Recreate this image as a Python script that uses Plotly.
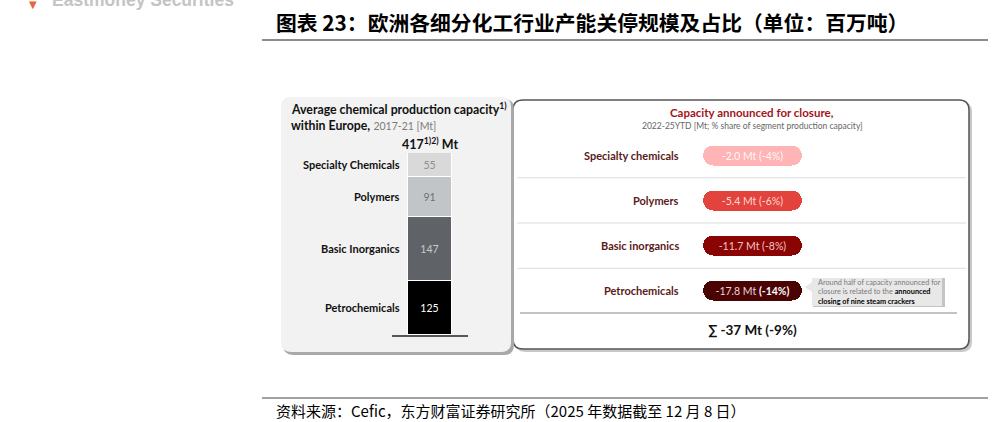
import plotly.graph_objects as go

W, H = 993, 422

# ---------------- data ----------------
segments = ["Petrochemicals", "Basic Inorganics", "Polymers", "Specialty Chemicals"]
capacity = [125, 147, 91, 55]
total_capacity_label = 417

closure_labels = ["Specialty chemicals", "Polymers", "Basic inorganics", "Petrochemicals"]
closure_mt = [-2.0, -5.4, -11.7, -17.8]
closure_pct = [-4, -6, -8, -14]

title_text = "图表 23：欧洲各细分化工行业产能关停规模及占比（单位：百万吨）"
source_text = "资料来源：Cefic，东方财富证券研究所（2025 年数据截至 12 月 8 日）"

# ---------------- styles ----------------
seg_colors = ["#000000", "#5f6368", "#c2c5c8", "#d9d9d9"]
seg_text_colors = ["#ffffff", "#c9c9c9", "#6f6f6f", "#8f8f8f"]
pill_colors = ["#ffb5b5", "#e2433d", "#8a0404", "#4a0303"]
pill_text_colors = ["rgba(255,255,255,0.9)", "#ffd6d3", "#f2c6c6", "#ecd6d6"]
LAT = "Lato, 'Open Sans', sans-serif"
CJK = "'Noto Sans CJK SC', sans-serif"


def px(x):
    return x / W


def py(y):
    return 1 - y / H


def rrect(x0, y0, x1, y1, r):
    def P(x, y):
        return f"{px(x):.5f},{py(y):.5f}"
    return (f"M {P(x0 + r, y0)} L {P(x1 - r, y0)} Q {P(x1, y0)} {P(x1, y0 + r)} "
            f"L {P(x1, y1 - r)} Q {P(x1, y1)} {P(x1 - r, y1)} L {P(x0 + r, y1)} "
            f"Q {P(x0, y1)} {P(x0, y1 - r)} L {P(x0, y0 + r)} Q {P(x0, y0)} {P(x0 + r, y0)} Z")


fig = go.Figure()

# ---------------- left stacked bar ----------------
for name, val, col, tcol in zip(segments, capacity, seg_colors, seg_text_colors):
    fig.add_trace(go.Bar(
        x=["Europe"], y=[val], name=name, marker_color=col,
        marker_line=dict(color="#ffffff", width=1),
        width=0.58, text=[str(val)], textposition="inside",
        insidetextanchor="middle", constraintext="none",
        textfont=dict(color=tcol, size=10.5, family=LAT),
        xaxis="x2", yaxis="y2", showlegend=False, hoverinfo="skip"))

# ---------------- right pills ----------------
pill_texts = []
for i, (mt, pc) in enumerate(zip(closure_mt, closure_pct)):
    pct = f"({pc}%)"
    if i == len(closure_mt) - 1:
        pct = f"<b><span style='color:#ffffff'>{pct}</span></b>"
    pill_texts.append(f"{mt:.1f} Mt {pct}")

fig.add_trace(go.Bar(
    y=closure_labels, x=[1] * len(closure_labels), base=0, orientation="h",
    marker=dict(color=pill_colors, cornerradius="50%", line=dict(width=0)),
    width=0.44, text=pill_texts, textposition="inside",
    insidetextanchor="middle", constraintext="none",
    textfont=dict(color=pill_text_colors, size=10.5, family=LAT),
    xaxis="x3", yaxis="y3", showlegend=False, hoverinfo="skip"))

total = sum(capacity)
shapes = []
# right panel
shapes.append(dict(type="path", path=rrect(515, 102, 972, 352, 10), xref="paper", yref="paper",
                   fillcolor="#c8c8c8", line=dict(width=0), layer="below"))
shapes.append(dict(type="path", path=rrect(513, 100, 969, 349, 10), xref="paper", yref="paper",
                   fillcolor="#ffffff", line=dict(color="#555555", width=1.5), layer="below"))
# left panel
shapes.append(dict(type="path", path=rrect(283, 99, 514, 355, 10), xref="paper", yref="paper",
                   fillcolor="#a9a9a9", line=dict(width=0), layer="below"))
shapes.append(dict(type="path", path=rrect(281, 97, 511, 352, 10), xref="paper", yref="paper",
                   fillcolor="#f2f2f2", line=dict(width=0), layer="below"))
# separators in the right panel
for k in range(len(closure_labels) - 1):
    shapes.append(dict(type="line", xref="paper", yref="y3", x0=px(517), x1=px(966),
                       y0=k + 0.5, y1=k + 0.5, line=dict(color="#dcdcdc", width=1), layer="below"))
shapes.append(dict(type="line", xref="paper", yref="y3", x0=px(520), x1=px(957),
                   y0=len(closure_labels) - 0.5, y1=len(closure_labels) - 0.5,
                   line=dict(color="#8a8a8a", width=2), layer="below"))
# note box with pointer
shapes.append(dict(type="rect", xref="paper", yref="paper", x0=px(813), x1=px(945), y0=py(307), y1=py(278),
                   fillcolor="#c4c4c4", line=dict(width=0), layer="below"))
shapes.append(dict(type="rect", xref="paper", yref="paper", x0=px(812), x1=px(942), y0=py(306), y1=py(278),
                   fillcolor="#e8e8e8", line=dict(width=0), layer="below"))
shapes.append(dict(type="path", xref="paper", yref="paper",
                   path=f"M {px(812)},{py(282)} L {px(805)},{py(287)} L {px(812)},{py(292)} Z",
                   fillcolor="#e8e8e8", line=dict(width=0), layer="below"))
# header / footer rules
shapes.append(dict(type="line", xref="paper", yref="paper", x0=px(262), x1=px(988), y0=py(40), y1=py(40),
                   line=dict(color="#8c8c8c", width=2)))
shapes.append(dict(type="line", xref="paper", yref="paper", x0=px(262), x1=px(988), y0=py(398), y1=py(398),
                   line=dict(color="#444444", width=1.2)))

ann = []


def A(x, y, text, size, color="#000", family=LAT, xanchor="left", yref="paper", **kw):
    ann.append(dict(x=px(x), y=(py(y) if yref == "paper" else y), xref="paper", yref=yref, text=text,
                    showarrow=False, xanchor=xanchor, yanchor="middle",
                    font=dict(size=size, color=color, family=family), **kw))


# header
A(50, 0, "<b>Eastmoney Securities</b>", 17.5, "#c4c4c4", "Liberation Sans, Arial, sans-serif")
A(27, 5, "▼", 10, "#e8643a", "DejaVu Sans")
A(274, 22, f"<b>{title_text}</b>", 20.8, "#000", CJK)
A(274, 410, source_text, 15, "#000", CJK)

# left panel texts
A(289, 109, "<b>Average chemical production capacity<sup>1)</sup></b>", 12.3, "#111")
A(289, 125, "<b>within Europe,</b> <span style='color:#7a7a7a;font-size:10.5px'>2017-21 [Mt]</span>", 12.3, "#111")
A(430, 143, f"<b>{total_capacity_label}<sup>1)2)</sup> Mt</b>", 12.5, "#111", xanchor="center")
cum = 0
for name, val in zip(segments, capacity):
    mid = cum + val / 2
    cum += val
    ann.append(dict(x=px(402), y=mid, xref="paper", yref="y2", text=f"<b>{name}</b>", showarrow=False,
                    xanchor="right", yanchor="middle", font=dict(size=11, color="#111", family=LAT)))

# right panel texts
A(752, 113, "<b>Capacity announced for closure,</b>", 11.5, "#a3141b", xanchor="center")
A(752, 125.5, "2022-25YTD [Mt; % share of segment production capacity]", 8.5, "#666", xanchor="center")
for lab in closure_labels:
    ann.append(dict(x=px(681), y=lab, xref="paper", yref="y3", text=f"<b>{lab}</b>", showarrow=False,
                    xanchor="right", yanchor="middle", font=dict(size=11, color="#5a1a1a", family=LAT)))
sum_mt = round(sum(closure_mt))
sum_pct = round(sum(closure_mt) / total_capacity_label * 100)
A(752, 330, f"<b>∑ {sum_mt} Mt ({sum_pct}%)</b>", 13.5, "#111", xanchor="center")
A(816, 292, "Around half of capacity announced for<br>closure is related to the "
            "<b><span style='color:#000'>announced</span></b><br>"
            "<b><span style='color:#000'>closing of nine steam crackers</span></b>",
  7.3, "#7a7a7a", align="left")

fig.update_layout(
    width=W, height=H, margin=dict(l=0, r=0, t=0, b=0),
    paper_bgcolor="#ffffff", plot_bgcolor="rgba(0,0,0,0)",
    barmode="stack", bargap=0, showlegend=False,
    xaxis=dict(visible=False), yaxis=dict(visible=False),
    xaxis2=dict(domain=[px(392), px(468)], range=[-0.5, 0.5], anchor="y2", showline=True,
                linecolor="#555", linewidth=1.5, showticklabels=False, showgrid=False,
                zeroline=False, ticks=""),
    yaxis2=dict(domain=[py(335), py(153)], range=[0, total], anchor="x2", visible=False),
    xaxis3=dict(domain=[px(703), px(802)], range=[0, 1], anchor="y3", visible=False),
    yaxis3=dict(domain=[py(313.5), py(132.5)], range=[len(closure_labels) - 0.5, -0.5],
                anchor="x3", type="category", visible=False),
    shapes=shapes, annotations=ann,
)

fig.write_html("out.html")
